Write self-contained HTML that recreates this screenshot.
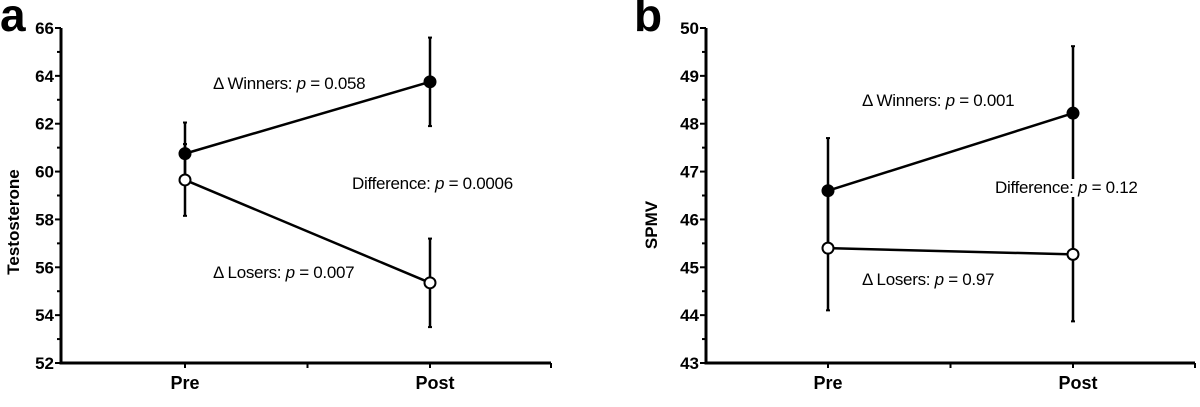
<!DOCTYPE html>
<html><head><meta charset="utf-8"><style>
html,body{margin:0;padding:0;background:#fff;}
svg{display:block;font-family:"Liberation Sans",Arial,sans-serif;}
</style></head><body>
<svg id="c" width="1200" height="407" viewBox="0 0 1200 407" xmlns="http://www.w3.org/2000/svg"></svg>
<script>
const categories = ["Pre","Post"];
const aWinners = [60.75, 63.75];
const aWinnersErr = [1.3, 1.85];
const aLosers = [59.65, 55.35];
const aLosersErr = [1.5, 1.85];
const bWinners = [46.6, 48.22];
const bWinnersErr = [1.1, 1.4];
const bLosers = [45.4, 45.27];
const bLosersErr = [1.3, 1.4];
const aTicks = [52,54,56,58,60,62,64,66];
const bTicks = [43,44,45,46,47,48,49,50];

const NS="http://www.w3.org/2000/svg";
const svg=document.getElementById('c');
function el(tag,attrs,parent){const e=document.createElementNS(NS,tag);for(const k in attrs)e.setAttribute(k,attrs[k]);(parent||svg).appendChild(e);return e;}

function panel(o){
  const g=el('g',{});
  
  
  const ymin=o.ticks[0],ymax=o.ticks[o.ticks.length-1];
  const Y=v=>o.yb-(v-ymin)/(ymax-ymin)*(o.yb-o.yt);
  const X=i=>o.xc[i];
  const L=el('text',{x:o.lx,y:31,'font-size':46,'font-weight':'bold'},g);L.textContent=o.letter;
  
  
  const ax=el('path',{d:`M${o.ax},${o.yt} V${o.yb} H${o.xe}`,stroke:'#000','stroke-width':3,fill:'none'},g);
  
  
  const step=o.ticks[1]-o.ticks[0];
  for(let v=ymin;v<=ymax+1e-9;v+=step/2){
    const major=o.ticks.some(t=>Math.abs(t-v)<1e-9);
    el('line',{x1:o.ax-(major?6:4),x2:o.ax,y1:Y(v),y2:Y(v),stroke:'#000','stroke-width':2},g);
  }
  o.ticks.forEach(t=>{
    const tx=el('text',{x:o.ax-7,y:Y(t)+6,'font-size':17,'font-weight':'bold','text-anchor':'end'},g);
    tx.textContent=t;
    
    
  });
  [o.xc[0],(o.xc[0]+o.xc[1])/2,o.xc[1],o.xe].forEach(x=>el('line',{x1:x,x2:x,y1:o.yb,y2:o.yb+5,stroke:'#000','stroke-width':2},g));
  categories.forEach((c,i)=>{
    const tx=el('text',{x:X(i)+(i?5:0),y:389,'font-size':18,'font-weight':'bold','text-anchor':'middle'},g);
    tx.textContent=c;
    
    
  });
  const yt=el('text',{transform:`translate(${o.tx},${o.tcy}) rotate(-90)`,'font-size':17,'font-weight':'bold','text-anchor':'middle'},g);
  yt.textContent=o.title;
  
  
  [[o.w,o.we,'winners'],[o.l,o.le,'losers']].forEach(([vals,errs,name])=>{
    vals.forEach((v,i)=>{
      el('line',{x1:X(i),x2:X(i),y1:Y(v-errs[i]),y2:Y(v+errs[i]),stroke:'#000','stroke-width':2.5},g);
      [v-errs[i],v+errs[i]].forEach(e=>el('line',{x1:X(i)-2,x2:X(i)+2,y1:Y(e),y2:Y(e),stroke:'#000','stroke-width':2},g));
    });
    const ln=el('line',{x1:X(0),y1:Y(vals[0]),x2:X(1),y2:Y(vals[1]),stroke:'#000','stroke-width':2.5},g);
    
    
  });
  [[o.w,'#000','winners'],[o.l,'#fff','losers']].forEach(([vals,fill,name])=>{
    vals.forEach((v,i)=>{
      const c=el('circle',{cx:X(i),cy:Y(v),r:5.5,fill:fill,stroke:'#000','stroke-width':2},g);
      
      
    });
  });
  o.ann.forEach(a=>{
    if(a[4]){el('rect',{x:a[0]+a[4][0],y:a[1]-14,width:a[4][1],height:18,fill:'#fff'},g);}
    const t=el('text',{x:a[0],y:a[1],'font-size':17,'letter-spacing':'-0.3'},g);
    t.innerHTML=a[2]+'<tspan font-style="italic">p</tspan> = '+a[3];
    
    
  });
}
panel({letter:'a',lx:0,ax:61,xe:551,xc:[185,430],yt:28,yb:363,ticks:aTicks,title:'Testosterone',tx:19,tcy:222,
  w:aWinners,we:aWinnersErr,l:aLosers,le:aLosersErr,
  ann:[[213,89,'\u0394 Winners: ','0.058'],[352,189,'Difference: ','0.0006'],[213,278,'\u0394 Losers: ','0.007']]});
panel({letter:'b',lx:634,ax:706,xe:1195,xc:[828,1073],yt:28,yb:363,ticks:bTicks,title:'SPMV',tx:657,tcy:225,
  w:bWinners,we:bWinnersErr,l:bLosers,le:bLosersErr,
  ann:[[862,106,'\u0394 Winners: ','0.001'],[995,193,'Difference: ','0.12',[70,14]],[862,285,'\u0394 Losers: ','0.97']]});
</script>
</body></html>
